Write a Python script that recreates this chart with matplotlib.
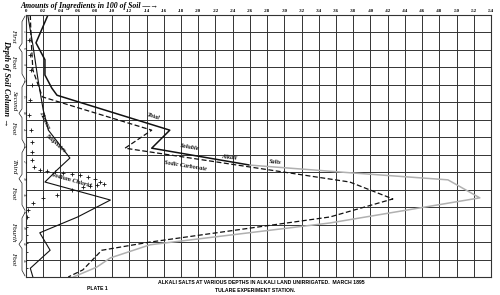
import numpy as np
import matplotlib.pyplot as plt

# amounts in 100 parts of soil (x) against depth in inches (y)
total_x = [0.0255, 0.0116, 0.022, 0.022, 0.030, 0.036, 0.167, 0.146, 0.260]
total_d = [0, 5.1, 8.2, 11.0, 13.4, 14.7, 21.1, 24.4, 27.5]
total_low_x = [0.260, 0.376, 0.490, 0.527, 0.353, 0.144, 0.098, 0.082, 0.055]
total_low_d = [27.5, 28.9, 30.2, 33.5, 38.1, 42.1, 44.5, 46.2, 48]

carb_x = [0.005, 0.006, 0.008, 0.019, 0.146, 0.115, 0.376, 0.426, 0.353,
          0.144, 0.088, 0.066, 0.049]
carb_d = [0, 4.6, 10.1, 15.0, 21.1, 24.4, 30.6, 33.7, 37.0, 41.6, 43.1, 46.7, 48]

sulph_x = [0.002, 0.008, 0.014, 0.020, 0.026, 0.051, 0.036, 0.022, 0.098,
           0.060, 0.016, 0.028, 0.005, 0.008]
sulph_d = [0, 5.5, 11.9, 17.4, 21.1, 26.2, 28.4, 30.6, 33.9, 37.0, 39.9, 43.1,
           46.4, 48]

chlor_x = [0.003, 0.005, 0.006, 0.007, 0.005, 0.003, 0.006, 0.007, 0.007, 0.007,
           0.009, 0.016, 0.024, 0.034, 0.043, 0.053, 0.063, 0.072, 0.080, 0.086,
           0.091, 0.082, 0.074, 0.066, 0.053, 0.036, 0.020, 0.008, 0.002, 0.001,
           0, 0, 0, 0, 0, 0]
chlor_d = [4.6, 7.3, 10.1, 12.8, 15.6, 18.3, 21.1, 23.3, 25.1, 26.6,
           27.8, 28.4, 28.6, 28.8, 29.0, 29.1, 29.3, 29.7, 30.0, 30.6,
           31.0, 31.1, 31.3, 31.5, 32.1, 33.0, 33.5, 34.4, 35.7, 37.0,
           38.8, 40.3, 41.8, 43.4, 44.9, 46.4]

x_ticks = [i * 0.02 for i in range(28)]
x_labels = ['0'] + ['.%02d' % round(v * 100) for v in x_ticks[1:]]
feet = ['First', 'Second', 'Third', 'Fourth']
inch_marks = list(range(3, 48, 3))

serif = 'Liberation Serif'
sans = 'Liberation Sans'

fig = plt.figure(figsize=(5, 2.95), dpi=100)
ax = fig.add_axes([26 / 500, 18 / 295, 465 / 500, 262 / 295])

ax.set_xlim(0, 0.54)
ax.set_ylim(48, 0)
ax.set_xticks(x_ticks)
ax.set_xticklabels(x_labels, fontsize=3.5, fontweight='bold', family=serif)
ax.set_yticks(np.linspace(0, 48, 16))
ax.set_yticklabels([])
ax.xaxis.tick_top()
ax.tick_params(length=0, pad=1.5)
ax.grid(True, color='#333', lw=0.7)
for s in ax.spines.values():
    s.set_color('#333')
    s.set_linewidth(0.8)

ax.plot(total_x, total_d, color='#111', lw=1.1)
ax.plot(total_low_x, total_low_d, color='#b0b0b0', lw=1.1)
ax.plot(carb_x, carb_d, color='#111', lw=0.9, ls=(0, (4, 2)))
ax.plot(sulph_x, sulph_d, color='#111', lw=0.8)
ax.plot(chlor_x, chlor_d, ls='none', marker='+', ms=2.5, mew=0.6, color='#111')

lab = dict(family=serif, style='italic', fontweight='bold', fontsize=4.5,
           color='#111', ha='center', va='center')
ax.text(0.148, 18.6, 'Total', rotation=-17, **lab)
ax.text(0.19, 24.2, 'Soluble', rotation=-10, **lab)
ax.text(0.236, 26.0, 'Alkali', rotation=-6, **lab)
ax.text(0.29, 27.0, 'Salts', rotation=-5, **lab)
ax.text(0.185, 27.6, 'Sodic Carbonate', rotation=-9, **lab)
ax.text(0.035, 23.6, 'Sulphates', rotation=-42, **lab)
ax.text(0.053, 30.3, 'Sodium Chlorid', rotation=-16, **lab)
ax.text(0.022, 19.2, 'Humus', rotation=-65, **lab)

# left strip: depth annotation
yt = ax.get_yaxis_transform()
ax.text(-20 / 465, 12.5, 'Depth of Soil Column \u2192', transform=yt,
        rotation=-90, family=serif, style='italic', fontweight='bold',
        fontsize=6, ha='center', va='center', clip_on=False)
for i, name in enumerate(feet):
    y0 = i * 12
    ax.text(-12 / 465, y0 + 3.8, name, transform=yt, rotation=-90,
            family=serif, style='italic', fontsize=5, ha='center',
            va='center', clip_on=False)
    ax.text(-12 / 465, y0 + 8.6, 'Foot', transform=yt, rotation=-90,
            family=serif, style='italic', fontsize=5, ha='center',
            va='center', clip_on=False)
    mid = y0 + 6
    bx = np.array([-1, -4, -4, -7, -4, -4, -1]) / 465
    by = [y0 + 0.2, y0 + 1.2, mid - 0.8, mid, mid + 0.8, y0 + 10.8, y0 + 11.8]
    ax.plot(bx, by, transform=yt, color='#222', lw=0.5, clip_on=False)
for m in inch_marks:
    ax.text(-2.5 / 465, m, str(m), transform=yt, rotation=-90, fontsize=2.6,
            family=serif, ha='center', va='center', clip_on=False)

fig.text(20 / 500, 1 - 6 / 295, 'Amounts of Ingredients in 100 of Soil \u2014\u2192',
         family=serif, style='italic', fontweight='bold', fontsize=5.6,
         ha='left', va='center')
fig.text(261 / 500, 1 - 283 / 295,
         'ALKALI SALTS AT VARIOUS DEPTHS IN ALKALI LAND UNIRRIGATED.  MARCH 1895',
         family=sans, fontweight='bold', fontsize=3.7, ha='center', va='center')
fig.text(255 / 500, 1 - 290 / 295, 'TULARE EXPERIMENT STATION.',
         family=sans, fontweight='bold', fontsize=3.7, ha='center', va='center')
fig.text(97 / 500, 1 - 288 / 295, 'PLATE 1', family=sans, fontweight='bold',
         fontsize=3.7, ha='center', va='center')

fig.savefig('out.png', dpi=100)
